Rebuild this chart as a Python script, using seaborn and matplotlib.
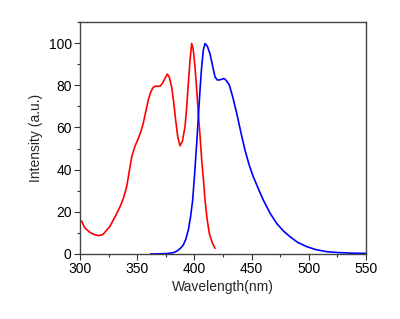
import matplotlib
matplotlib.use("Agg")
import matplotlib.pyplot as plt
import seaborn as sns
import pandas as pd
from matplotlib.ticker import MultipleLocator

# Excitation spectrum (red)
exc_wl = [301.5, 304, 308, 312, 316, 320, 326, 331, 335, 338, 340.8, 343, 345.2,
          348, 351, 353.5, 355.3, 357.5, 359.7, 362, 364, 366, 368, 370, 372,
          374, 376.3, 378, 380.1, 382, 383.6, 385.5, 387.4, 389.5, 391.8, 393.3,
          394.7, 396.2, 397.6, 399, 400.5, 402, 403.4, 405, 406.4, 408, 409.3,
          411, 413, 415.5, 418]
exc_int = [15.6, 12.5, 10.5, 9.3, 8.7, 9.2, 13.0, 18.0, 22.4, 26.5, 31.9, 39.0, 46.0,
           51.0, 54.8, 58.5, 62.0, 67.5, 73.0, 77.0, 79.0, 79.6, 79.5, 79.6, 80.8,
           83.0, 85.3, 84.0, 79.3, 71.5, 63.5, 55.5, 51.3, 53.5, 60.3, 70.0,
           80.9, 92.0, 99.8, 97.0, 88.8, 78.0, 66.7, 55.5, 44.5, 34.5, 25.6,
           17.0, 9.8, 5.5, 2.7]

# Emission spectrum (blue)
em_wl = [361.8, 370, 376, 381.6, 385, 388, 390.3, 392.5, 394.7, 396.6, 398.5,
         400.2, 402, 403.5, 404.9, 406.3, 407.8, 409.3, 411.3, 413.6, 416, 418,
         420, 421.5, 423.5, 425.9, 428, 430.5, 433.5, 437, 440.5, 444.2, 448,
         451.5, 456, 460.2, 466, 471.9, 478, 483.6, 490, 498.1, 506, 515.6,
         525, 537, 550]
em_int = [0.0, 0.1, 0.2, 0.6, 1.5, 2.8, 4.3, 7.0, 11.4, 17.5, 25.6,
          38.0, 52.5, 65.5, 77.7, 88.5, 96.7, 99.8, 98.5, 95.0, 89.0, 84.0,
          82.5, 82.5, 82.8, 83.2, 82.2, 80.1, 74.5, 66.7, 58.0, 49.3, 42.0,
          36.6, 30.8, 25.6, 19.5, 14.5, 10.8, 8.2, 5.6, 3.5, 2.1, 1.1,
          0.7, 0.4, 0.3]

x_ticks = [300, 350, 400, 450, 500, 550]
y_ticks = [0, 20, 40, 60, 80, 100]

sns.set_theme(style="white")
plt.rcParams["font.family"] = ["Liberation Sans", "DejaVu Sans"]

fig = plt.figure(figsize=(4.0, 3.19), dpi=100)
ax = fig.add_axes([0.2, 0.2038, 0.715, 0.7272])

exc = pd.DataFrame({"wl": exc_wl, "intensity": exc_int})
em = pd.DataFrame({"wl": em_wl, "intensity": em_int})
sns.lineplot(data=exc, x="wl", y="intensity", color="#ff0000", linewidth=1.2, ax=ax)
sns.lineplot(data=em, x="wl", y="intensity", color="#0000ff", linewidth=1.2, ax=ax)

ax.set_xlim(300, 550)
ax.set_ylim(0, 110)
ax.set_xticks(x_ticks)
ax.set_yticks(y_ticks)
ax.xaxis.set_minor_locator(MultipleLocator(25))
ax.yaxis.set_minor_locator(MultipleLocator(10))
ax.tick_params(which="major", direction="out", length=4, width=0.8,
               colors="#333333", labelcolor="black", labelsize=10,
               bottom=True, left=True, top=False, right=False, pad=2)
ax.tick_params(which="minor", direction="out", length=2.5, width=0.8,
               colors="#333333", bottom=True, left=True, top=False, right=False)

for s in ax.spines.values():
    s.set_color("#444444")
    s.set_linewidth(1.0)

ax.set_xlabel("Wavelength(nm)", fontsize=10, labelpad=3)
ax.set_ylabel("Intensity (a.u.)", fontsize=10, labelpad=4)

fig.savefig("out.png", dpi=100)
plt.close(fig)
